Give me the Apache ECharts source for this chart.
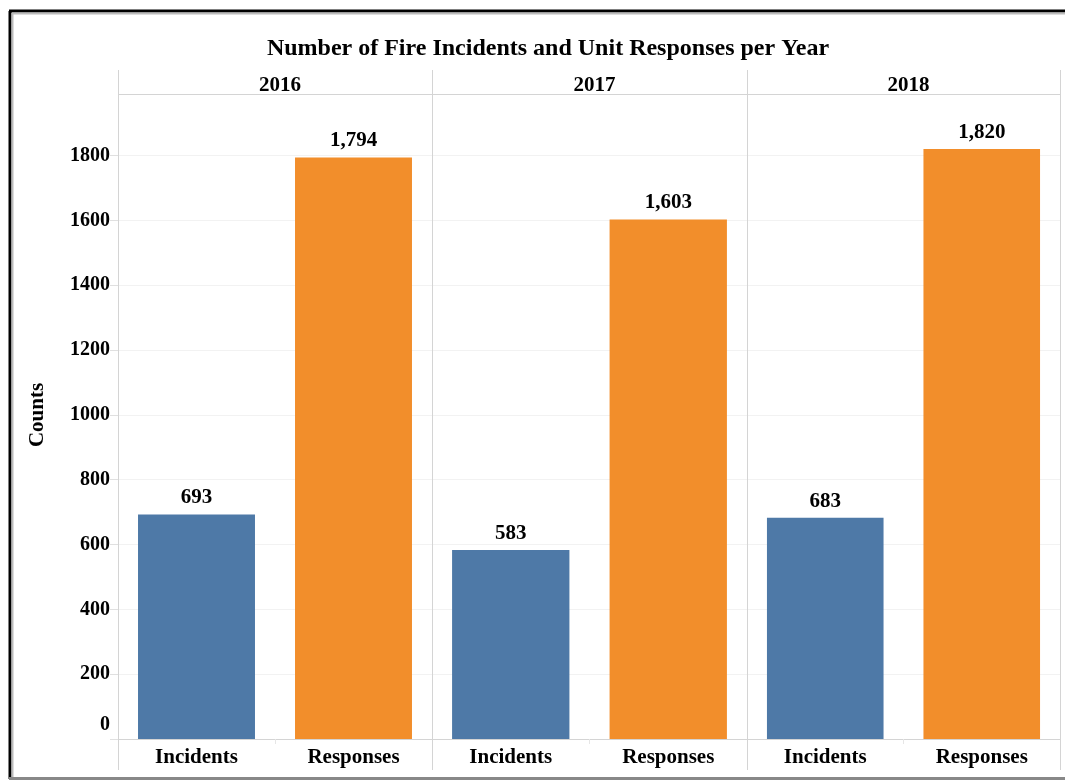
<!DOCTYPE html>
<html><head><meta charset="utf-8">
<script src="https://cdn.jsdelivr.net/npm/echarts@6/dist/echarts.min.js"></script>
<style>html,body{margin:0;padding:0;background:#fff}#c{width:1065px;height:781px}</style>
</head><body><div id="c"></div>
<script>
const years = ['2016', '2017', '2018'];
const categories = ['Incidents', 'Responses'];
const incidents = [693, 583, 683];
const responses = [1794, 1603, 1820];
const yTicks = [0, 200, 400, 600, 800, 1000, 1200, 1400, 1600, 1800];

(function () {
const FONT = '"Liberation Serif", "Times New Roman", serif';
const colors = ['#4E79A7', '#F28E2B'];
const panelX = [118, 432, 747, 1060];
const gTop = 94, gBottom = 739;
const yMax = 1990;

function fmt(v) { return String(v).replace(/\B(?=(\d{3})+(?!\d))/g, ','); }

const grids = [], xAxes = [], yAxes = [], series = [], titles = [];
years.forEach((yr, i) => {
  grids.push({left: panelX[i], width: panelX[i+1] - panelX[i], top: gTop, height: gBottom - gTop, containLabel: false});
  xAxes.push({
    type: 'category', gridIndex: i, data: categories,
    axisLine: {show: true, lineStyle: {color: '#d4d4d4', width: 1}},
    axisTick: {show: true, length: 5, lineStyle: {color: '#e6e6e6'}},
    axisLabel: {color: '#000', fontFamily: FONT, fontWeight: 'bold', fontSize: 21, margin: 8}
  });
  yAxes.push({
    type: 'value', gridIndex: i, min: 0, max: yMax, interval: 200,
    axisLine: {show: false},
    axisTick: {show: i === 0, length: 8, lineStyle: {color: '#e0e0e0'}},
    axisLabel: {show: i === 0, color: '#000', fontFamily: FONT, fontWeight: 'bold', fontSize: 20, margin: 8,
      showMaxLabel: false,
      formatter: v => yTicks.includes(v) ? (v === 0 ? '{z|0}' : String(v)) : '',
      rich: {z: {fontFamily: FONT, fontWeight: 'bold', fontSize: 20, color: '#000', padding: [0, 0, 28, 0]}}},
    splitLine: {show: true, lineStyle: {color: '#f2f2f2', width: 1}}
  });
  series.push({
    type: 'bar', xAxisIndex: i, yAxisIndex: i, barWidth: '74.5%',
    data: [incidents[i], responses[i]].map((v, k) => ({value: v, itemStyle: {color: colors[k]}})),
    label: {show: true, position: 'top', distance: 6, color: '#000', fontFamily: FONT, fontWeight: 'bold', fontSize: 21,
      formatter: p => fmt(p.value)}
  });
  titles.push({text: yr, left: (panelX[i] + panelX[i+1]) / 2, top: 70, textAlign: 'center',
    textStyle: {fontFamily: FONT, fontWeight: 'bold', fontSize: 21, color: '#000'}});
});
titles.unshift({text: 'Number of Fire Incidents and Unit Responses per Year', left: 543, top: 32, textAlign: 'center',
  textStyle: {fontFamily: FONT, fontWeight: 'bold', fontSize: 24, color: '#000'}});

const gfx = [];
panelX.forEach(x => gfx.push({type: 'line', shape: {x1: x + 0.5, y1: 70, x2: x + 0.5, y2: 770}, style: {stroke: '#d4d4d4', lineWidth: 1}, z: 10}));
gfx.push({type: 'line', shape: {x1: 118, y1: gTop + 0.5, x2: 1060, y2: gTop + 0.5}, style: {stroke: '#d4d4d4', lineWidth: 1}, z: 10});
// frame
gfx.push({type: 'line', shape: {x1: 10, y1: 11, x2: 10, y2: 779}, style: {stroke: '#000', lineWidth: 3}, z: 20});
gfx.push({type: 'line', shape: {x1: 9, y1: 11, x2: 1065, y2: 11}, style: {stroke: '#000', lineWidth: 3}, z: 20});
gfx.push({type: 'line', shape: {x1: 12, y1: 13.5, x2: 1065, y2: 13.5}, style: {stroke: '#bbb', lineWidth: 2}, z: 20});
gfx.push({type: 'line', shape: {x1: 12.5, y1: 13, x2: 12.5, y2: 779}, style: {stroke: '#bbb', lineWidth: 2}, z: 20});
gfx.push({type: 'line', shape: {x1: 9, y1: 778.5, x2: 1065, y2: 778.5}, style: {stroke: '#888', lineWidth: 3}, z: 20});
gfx.push({type: 'text', x: 38, y: 415, rotation: Math.PI / 2, style: {text: 'Counts', fill: '#000', font: 'bold 21px ' + FONT, align: 'center', verticalAlign: 'middle'}, z: 20});

const chart = echarts.init(document.getElementById('c'), null, {renderer: 'canvas'});
chart.setOption({
  animation: false,
  backgroundColor: '#fff',
  title: titles,
  grid: grids, xAxis: xAxes, yAxis: yAxes, series: series,
  graphic: gfx
});
})();
</script></body></html>
